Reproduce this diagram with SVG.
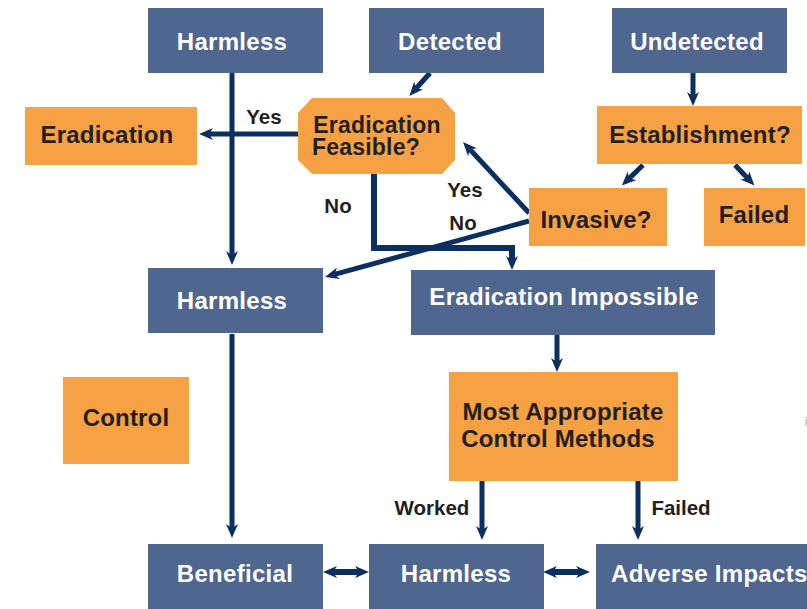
<svg xmlns="http://www.w3.org/2000/svg" width="807" height="609" viewBox="0 0 807 609">
<style>
.b{fill:#4f668f}
.o{fill:#f6a244}
.tw{font-family:"Liberation Sans",Arial,sans-serif;font-weight:bold;font-size:24px;letter-spacing:0.3px;fill:#ffffff;text-anchor:middle}
.td{font-family:"Liberation Sans",Arial,sans-serif;font-weight:bold;font-size:24px;letter-spacing:0.2px;fill:#231f20;text-anchor:middle}
.tl{font-family:"Liberation Sans",Arial,sans-serif;font-weight:bold;font-size:20.5px;fill:#231f20;text-anchor:middle}
.c{stroke:#0b2f5e;stroke-width:5;fill:none}
</style>
<defs>
<marker id="ah" markerUnits="userSpaceOnUse" viewBox="0 0 14 12" markerWidth="14" markerHeight="12" refX="4" refY="6" orient="auto-start-reverse">
<path d="M0,0 L14,6 L0,12 L4,6 Z" fill="#0b2f5e"/>
</marker>
</defs>
<rect width="807" height="609" fill="#ffffff"/>
<g id="connectors">
<line class="c" x1="232" y1="73" x2="232" y2="255" marker-end="url(#ah)"/>
<line class="c" x1="298" y1="134" x2="209" y2="134" marker-end="url(#ah)"/>
<line class="c" x1="430" y1="73" x2="416" y2="88.5" marker-end="url(#ah)"/>
<polyline class="c" style="stroke-width:6" points="374,174 374,248 512,248 512,260" marker-end="url(#ah)"/>
<line class="c" x1="529" y1="213" x2="469.8" y2="149.3" marker-end="url(#ah)"/>
<line class="c" x1="529" y1="221" x2="334.6" y2="274.4" marker-end="url(#ah)"/>
<line class="c" x1="693" y1="73" x2="693" y2="96" marker-end="url(#ah)"/>
<line class="c" x1="643" y1="165" x2="629" y2="178.6" marker-end="url(#ah)"/>
<line class="c" x1="735" y1="165" x2="747.6" y2="178.3" marker-end="url(#ah)"/>
<line class="c" x1="232" y1="334" x2="232" y2="528" marker-end="url(#ah)"/>
<line class="c" x1="557" y1="335" x2="557" y2="362" marker-end="url(#ah)"/>
<line class="c" x1="482" y1="481" x2="482" y2="530" marker-end="url(#ah)"/>
<line class="c" x1="638" y1="481" x2="638" y2="530" marker-end="url(#ah)"/>
<line class="c" style="stroke-width:6" x1="333" y1="572" x2="359" y2="572" marker-start="url(#ah)" marker-end="url(#ah)"/>
<line class="c" style="stroke-width:6" x1="553" y1="572" x2="580" y2="572" marker-start="url(#ah)" marker-end="url(#ah)"/>
</g>
<g id="harmless-top"><rect class="b" x="148" y="8" width="175" height="65"/><text class="tw" x="232" y="50">Harmless</text></g>
<g id="detected"><rect class="b" x="369" y="8" width="175" height="65"/><text class="tw" x="450" y="50">Detected</text></g>
<g id="undetected"><rect class="b" x="612" y="8" width="175" height="65"/><text class="tw" x="697" y="50">Undetected</text></g>
<g id="eradication"><rect class="o" x="25" y="107" width="172" height="58"/><text class="td" x="107" y="143">Eradication</text></g>
<g id="feasible"><polygon class="o" points="312,98 442,98 455,113 455,160 442,174 312,174 298,160 298,113"/><text class="td" x="377" y="133" style="font-size:23px">Eradication</text><text class="td" x="366" y="155" style="font-size:23px">Feasible?</text></g>
<g id="establishment"><rect class="o" x="597" y="106" width="205" height="58"/><text class="td" x="700" y="143">Establishment?</text></g>
<g id="invasive"><rect class="o" x="529" y="188" width="138" height="58"/><text class="td" x="596" y="228">Invasive?</text></g>
<g id="failed-top"><rect class="o" x="704" y="188" width="101" height="58"/><text class="td" x="754" y="223">Failed</text></g>
<g id="harmless-mid"><rect class="b" x="148" y="268" width="175" height="65"/><text class="tw" x="232" y="309">Harmless</text></g>
<g id="impossible"><rect class="b" x="411" y="270" width="304" height="65"/><text class="tw" x="564" y="305">Eradication Impossible</text></g>
<g id="methods"><rect class="o" x="449" y="372" width="229" height="109"/><text class="td" x="563" y="420">Most Appropriate</text><text class="td" x="558" y="447">Control Methods</text></g>
<g id="control"><rect class="o" x="63" y="377" width="126" height="87"/><text class="td" x="126" y="426">Control</text></g>
<g id="beneficial"><rect class="b" x="148" y="544" width="175" height="65"/><text class="tw" x="235" y="582">Beneficial</text></g>
<g id="harmless-bottom"><rect class="b" x="369" y="544" width="175" height="65"/><text class="tw" x="456" y="582">Harmless</text></g>
<g id="adverse"><rect class="b" x="596" y="544" width="211" height="65"/><text class="tw" x="611" y="582" style="text-anchor:start">Adverse Impacts</text></g>
<g id="labels">
<text class="tl" x="264" y="124">Yes</text>
<text class="tl" x="338" y="213">No</text>
<text class="tl" x="465" y="197">Yes</text>
<text class="tl" x="463" y="230">No</text>
<text class="tl" x="432" y="515">Worked</text>
<text class="tl" x="681" y="515">Failed</text>
<text x="805" y="426" style="font-family:'Liberation Sans',Arial,sans-serif;font-size:12px;fill:#aaaaaa">i</text>
</g>
</svg>
